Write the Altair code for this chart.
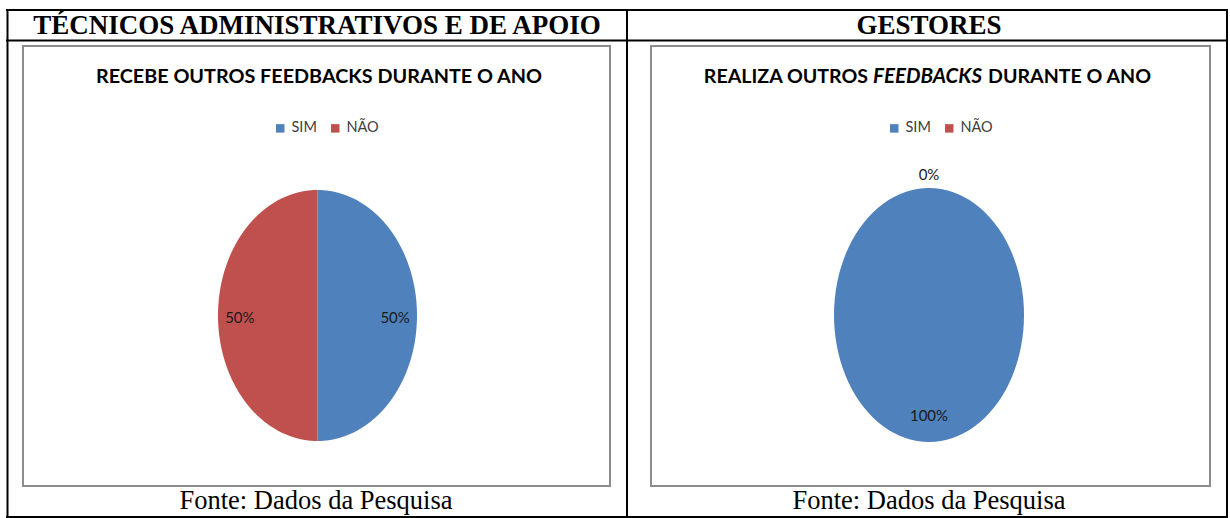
import altair as alt
import pandas as pd

# ---- data ----
categories = ["SIM", "NÃO"]
colors = ["#4F81BD", "#C0504D"]
tecnicos_values = [50, 50]
gestores_values = [100, 0]

header_left = "TÉCNICOS ADMINISTRATIVOS E DE APOIO"
header_right = "GESTORES"
title_left = "RECEBE OUTROS FEEDBACKS DURANTE O ANO"
title_right_parts = ["REALIZA OUTROS", "FEEDBACKS", "DURANTE O ANO"]
source_text = "Fonte: Dados da Pesquisa"

TITLE_FONT = "Lato"
SERIF = "Liberation Serif"
ONE = alt.Data(values=[{}])


def text_layer(text, x, y, size, font, weight="normal", style="normal",
               align="center", color="#000000"):
    return alt.Chart(ONE).mark_text(
        text=text, font=font, fontSize=size, fontWeight=weight, fontStyle=style,
        align=align, baseline="middle", color=color
    ).encode(x=alt.value(x), y=alt.value(y))


def hline(x1, x2, y, color="#000000", width=2):
    return alt.Chart(ONE).mark_rule(color=color, strokeWidth=width).encode(
        x=alt.value(x1), x2=alt.value(x2), y=alt.value(y))


def vline(x, y1, y2, color="#000000", width=2):
    return alt.Chart(ONE).mark_rule(color=color, strokeWidth=width).encode(
        x=alt.value(x), y=alt.value(y1), y2=alt.value(y2))


def box(x1, x2, y1, y2):
    return alt.Chart(ONE).mark_rect(filled=False, stroke="#8c8c8c", strokeWidth=2).encode(
        x=alt.value(x1), x2=alt.value(x2), y=alt.value(y1), y2=alt.value(y2))


def pie_panel(values, xrange, yrange, legend_x, legend_y):
    df = pd.DataFrame({"category": categories, "value": values,
                       "k": list(range(len(categories)))})
    base = alt.Chart(df).transform_window(
        cum="sum(value)", sort=[alt.SortField("k")], frame=[None, 0]
    ).transform_joinaggregate(total="sum(value)").transform_calculate(
        start="(datum.cum - datum.value) / datum.total",
        end="datum.cum / datum.total",
    )
    xs = alt.Scale(domain=[-1, 1], range=xrange)
    ys = alt.Scale(domain=[-1, 1], range=yrange)
    slices = base.transform_calculate(
        seq="sequence(0, 102)"
    ).transform_flatten(["seq"]).transform_calculate(
        t="datum.start + (datum.end - datum.start) * (datum.seq - 1) / 100"
    ).transform_calculate(
        px="datum.seq == 0 ? 0 : sin(2 * PI * datum.t)",
        py="datum.seq == 0 ? 0 : cos(2 * PI * datum.t)",
    ).mark_line(strokeOpacity=0, interpolate="linear").encode(
        x=alt.X("px:Q", scale=xs, axis=None),
        y=alt.Y("py:Q", scale=ys, axis=None),
        order=alt.Order("seq:Q"),
        detail="category:N",
        fill=alt.Fill(
            "category:N",
            scale=alt.Scale(domain=categories, range=colors),
            legend=alt.Legend(
                title=None, orient="none", legendX=legend_x, legendY=legend_y,
                direction="horizontal", symbolType="square", symbolSize=72,
                symbolStrokeWidth=0, labelFont=TITLE_FONT, labelFontSize=14.5,
                labelColor="#404040", labelOffset=4, columnPadding=11, padding=0,
            ),
        ),
    )
    labels = base.transform_calculate(
        mid="(datum.start + datum.end) / 2",
        r="datum.value == 0 ? 1.12 : 0.78",
    ).transform_calculate(
        lx="datum.r * sin(2 * PI * datum.mid)",
        ly="datum.r * cos(2 * PI * datum.mid)",
        label="datum.value + '%'",
    ).mark_text(font=TITLE_FONT, fontSize=15, color="#1a1a1a", baseline="middle", dy=2).encode(
        x=alt.X("lx:Q", scale=xs, axis=None),
        y=alt.Y("ly:Q", scale=ys, axis=None),
        text="label:N",
    )
    return alt.layer(slices, labels)


decor = [
    # table frame
    hline(6, 1228, 10), hline(6, 1228, 40.5), hline(6, 1228, 517),
    vline(7.5, 9, 518), vline(1227, 9, 518), vline(627, 9, 518),
    # chart boxes
    box(23, 610, 46, 486), box(651, 1210, 46, 486),
    # headers
    text_layer(header_left, 317, 26, 27, SERIF, weight="bold"),
    text_layer(header_right, 929, 26, 27, SERIF, weight="bold"),
    # chart titles
    text_layer(title_left, 319, 77, 19.8, TITLE_FONT, weight="bold"),
    text_layer(title_right_parts[0], 868, 77, 19.6, TITLE_FONT, weight="bold", align="right"),
    text_layer(title_right_parts[1], 873, 77, 20.5, TITLE_FONT, weight="bold", style="italic", align="left"),
    text_layer(title_right_parts[2], 988, 77, 19.6, TITLE_FONT, weight="bold", align="left"),
    # footers
    text_layer(source_text, 316, 501, 26.5, SERIF),
    text_layer(source_text, 929, 501, 26.5, SERIF),
]

left = pie_panel(tecnicos_values, [218, 417], [441, 190], 273, 121)
right = pie_panel(gestores_values, [834, 1024], [442, 188], 887, 121)

chart = alt.layer(*decor, left, right).resolve_scale(
    x="independent", y="independent", fill="independent"
).resolve_legend(fill="independent").properties(
    width=1230, height=518, padding=0, autosize=alt.AutoSizeParams(type="none"),
    background="white",
).configure_view(stroke=None)

chart.save("out.html", embed_options={"renderer": "svg", "actions": False})
